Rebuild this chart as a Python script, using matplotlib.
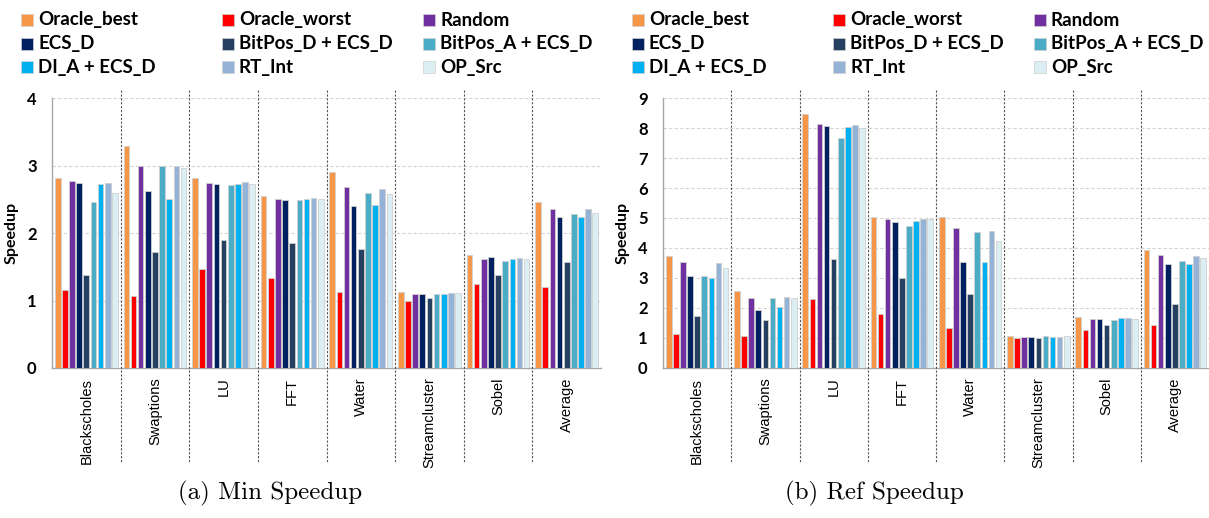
import matplotlib
matplotlib.use('Agg')
import matplotlib.pyplot as plt
import matplotlib.transforms as mtransforms
from matplotlib.patches import Rectangle
import numpy as np

# benchmarks and series
benchmarks = ['Blackscholes', 'Swaptions', 'LU', 'FFT', 'Water', 'Streamcluster', 'Sobel', 'Average']
series = ['Oracle_best', 'Oracle_worst', 'Random', 'ECS_D', 'BitPos_D + ECS_D',
          'BitPos_A + ECS_D', 'DI_A + ECS_D', 'RT_Int', 'OP_Src']
colors = ['#F79646', '#FF0000', '#7030A0', '#002060', '#254061',
          '#4BACC6', '#00B0F0', '#95B3D7', '#DAEEF3']

# (a) Min Speedup
min_oracle_best = [2.81, 3.29, 2.82, 2.55, 2.91, 1.12, 1.68, 2.46]
min_oracle_worst = [1.15, 1.07, 1.47, 1.33, 1.13, 1.00, 1.24, 1.20]
min_random = [2.77, 3.00, 2.74, 2.50, 2.68, 1.10, 1.62, 2.35]
min_ecs_d = [2.74, 2.62, 2.72, 2.49, 2.40, 1.09, 1.64, 2.24]
min_bitpos_d = [1.38, 1.72, 1.89, 1.85, 1.77, 1.04, 1.38, 1.57]
min_bitpos_a = [2.46, 3.00, 2.71, 2.49, 2.60, 1.10, 1.58, 2.28]
min_di_a = [2.72, 2.50, 2.72, 2.50, 2.41, 1.09, 1.62, 2.23]
min_rt_int = [2.74, 2.99, 2.75, 2.52, 2.65, 1.11, 1.63, 2.35]
min_op_src = [2.59, 2.96, 2.72, 2.51, 2.58, 1.11, 1.62, 2.30]

# (b) Ref Speedup
ref_oracle_best = [3.72, 2.58, 8.47, 5.02, 5.05, 1.06, 1.71, 3.94]
ref_oracle_worst = [1.14, 1.06, 2.30, 1.79, 1.33, 1.00, 1.26, 1.42]
ref_random = [3.55, 2.35, 8.14, 4.98, 4.68, 1.05, 1.65, 3.77]
ref_ecs_d = [3.08, 1.94, 8.07, 4.86, 3.55, 1.04, 1.65, 3.46]
ref_bitpos_d = [1.72, 1.59, 3.63, 3.00, 2.47, 1.01, 1.44, 2.12]
ref_bitpos_a = [3.08, 2.34, 7.66, 4.73, 4.54, 1.06, 1.61, 3.57]
ref_di_a = [3.00, 2.04, 8.05, 4.89, 3.52, 1.04, 1.66, 3.46]
ref_rt_int = [3.51, 2.36, 8.10, 4.98, 4.57, 1.05, 1.67, 3.74]
ref_op_src = [3.34, 2.33, 7.99, 4.96, 4.25, 1.07, 1.64, 3.66]

min_values = [min_oracle_best, min_oracle_worst, min_random, min_ecs_d, min_bitpos_d,
              min_bitpos_a, min_di_a, min_rt_int, min_op_src]
ref_values = [ref_oracle_best, ref_oracle_worst, ref_random, ref_ecs_d, ref_bitpos_d,
              ref_bitpos_a, ref_di_a, ref_rt_int, ref_op_src]

W, H = 1209, 518
fig = plt.figure(figsize=(W / 100, H / 100), dpi=100)


def px_axes(x0, x1, ytop, ybot):
    return fig.add_axes([x0 / W, 1 - ybot / H, (x1 - x0) / W, (ybot - ytop) / H])


def draw(ax, values, ymax):
    x = np.arange(len(benchmarks))
    pitch = 0.104
    for k, vals in enumerate(values):
        ax.bar(x + (k - 4) * pitch, vals, 0.082, color=colors[k],
               edgecolor='#d0d0d0', linewidth=0.6, zorder=3)
    ax.set_xlim(-0.5, len(benchmarks) - 0.5)
    ax.set_ylim(0, ymax)
    ax.set_yticks(range(ymax + 1))
    ax.yaxis.grid(True, color='#d4d4d4', linestyle=(0, (3, 2)), linewidth=0.8)
    ax.set_axisbelow(True)
    for s in ['top', 'right']:
        ax.spines[s].set_visible(False)
    for s in ['left', 'bottom']:
        ax.spines[s].set_color('#a6a6a6')
        ax.spines[s].set_linewidth(1.0)
    ax.set_xticks(x)
    ax.set_xticklabels(benchmarks, rotation=90, fontfamily='Liberation Sans', fontsize=10.5)
    ax.tick_params(axis='x', length=0, pad=7)
    ax.tick_params(axis='y', length=0, pad=11)
    for lbl in ax.get_yticklabels():
        lbl.set_fontfamily('Lato')
        lbl.set_fontweight('bold')
        lbl.set_fontsize(12)
    ax.set_ylabel('Speedup', fontfamily='Lato', fontweight='bold', fontsize=11.5, labelpad=6)
    # dashed separators between benchmarks
    trans = mtransforms.blended_transform_factory(ax.transData, ax.transAxes)
    for b in np.arange(0.5, len(benchmarks) - 1, 1):
        ax.plot([b, b], [1.03, -0.352], transform=trans, clip_on=False,
                color='#555555', linewidth=0.8, linestyle=(0, (2, 1.5)), zorder=4)


def legend(x_base):
    rows_y = [20, 43.5, 67]
    for k, name in enumerate(series):
        row, col = k // 3, k % 3
        x0 = x_base + col * 201
        yc = rows_y[row]
        fig.add_artist(Rectangle((x0 / W, 1 - (yc + 6) / H), 12 / W, 12 / H,
                                 transform=fig.transFigure, facecolor=colors[k],
                                 edgecolor='#d0d0d0', linewidth=0.5))
        fig.text((x0 + 17) / W, 1 - yc / H, name, ha='left', va='center',
                 fontfamily='Lato', fontweight='bold', fontsize=13.5)


ax_min = px_axes(52, 601, 98, 368)
ax_ref = px_axes(663, 1209, 98, 368)
draw(ax_min, min_values, 4)
draw(ax_ref, ref_values, 9)
legend(21)
legend(632)

fig.text(270 / W, 1 - 493 / H, '(a) Min Speedup', ha='center', va='center',
         fontfamily='cmr10', fontsize=18)
fig.text(874 / W, 1 - 493 / H, '(b) Ref Speedup', ha='center', va='center',
         fontfamily='cmr10', fontsize=18)

fig.savefig('out.png', dpi=100)
